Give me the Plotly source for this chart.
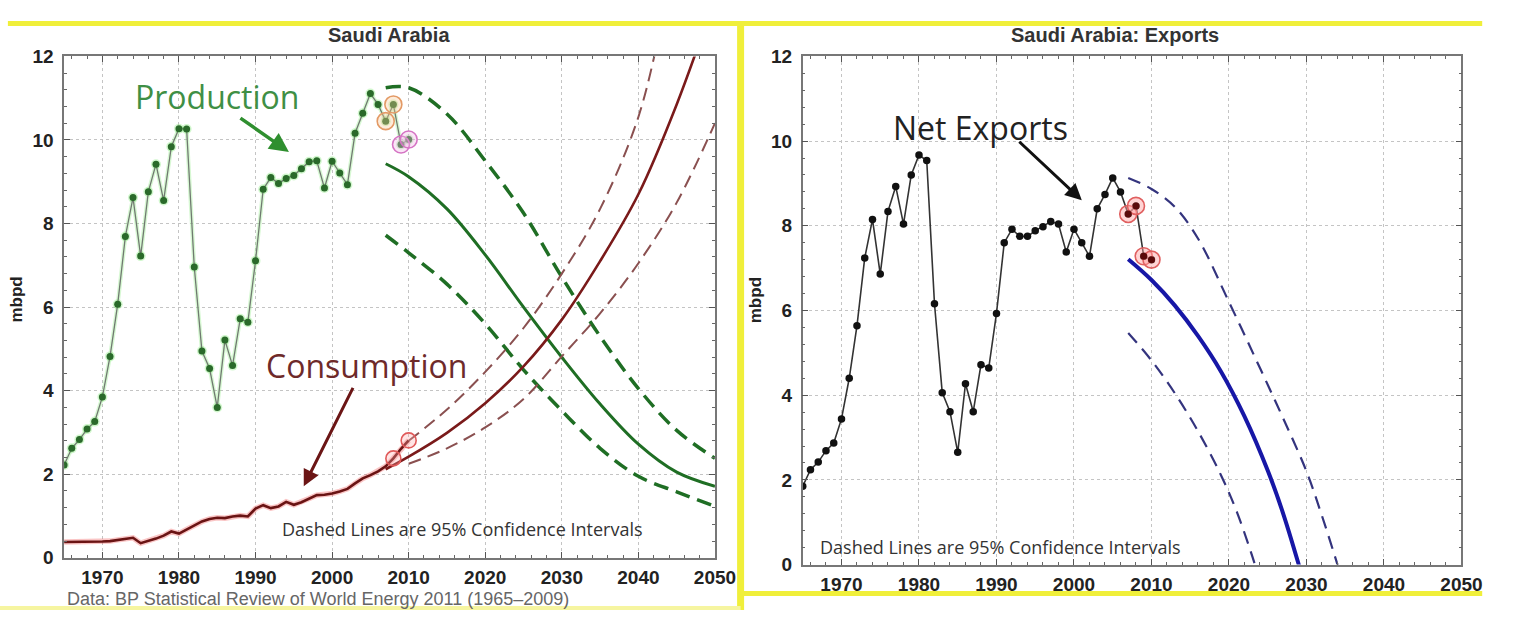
import plotly.graph_objects as go

# ---------------- data ----------------
years = list(range(1965, 2011))

production = [2.22, 2.62, 2.83, 3.08, 3.26, 3.85, 4.82, 6.07, 7.69, 8.62,
              7.22, 8.76, 9.42, 8.55, 9.84, 10.27, 10.26, 6.96, 4.95, 4.53,
              3.60, 5.21, 4.60, 5.72, 5.64, 7.11, 8.82, 9.10, 8.96, 9.08,
              9.15, 9.31, 9.48, 9.50, 8.85, 9.49, 9.21, 8.93, 10.16, 10.64,
              11.11, 10.85, 10.45, 10.85, 9.89, 10.01]

consumption = [0.38, 0.38, 0.38, 0.38, 0.39, 0.39, 0.40, 0.43, 0.46, 0.48,
               0.35, 0.40, 0.46, 0.53, 0.63, 0.58, 0.68, 0.78, 0.87, 0.93,
               0.96, 0.95, 0.99, 1.01, 0.99, 1.18, 1.26, 1.19, 1.23, 1.34,
               1.27, 1.33, 1.42, 1.50, 1.51, 1.54, 1.59, 1.65, 1.78, 1.90,
               1.98, 2.07, 2.19, 2.38, 2.61, 2.81]

net_exports = [1.85, 2.24, 2.42, 2.69, 2.87, 3.44, 4.40, 5.64, 7.24, 8.15,
               6.86, 8.34, 8.93, 8.04, 9.20, 9.67, 9.54, 6.16, 4.06, 3.61,
               2.65, 4.27, 3.61, 4.72, 4.64, 5.93, 7.60, 7.92, 7.75, 7.75,
               7.88, 7.98, 8.10, 8.04, 7.38, 7.92, 7.60, 7.28, 8.40, 8.74,
               9.13, 8.80, 8.28, 8.47, 7.28, 7.20]

# production projection (central + 95% CI)
prod_proj_years = [2007, 2010, 2015, 2020, 2025, 2030, 2035, 2040, 2045, 2050]
prod_proj_mid = [9.43, 9.12, 8.35, 7.25, 6.00, 4.80, 3.68, 2.72, 2.05, 1.71]
prod_proj_hi = [11.25, 11.25, 10.62, 9.50, 8.25, 6.72, 5.30, 4.05, 3.05, 2.38]
prod_proj_lo = [7.72, 7.30, 6.55, 5.60, 4.50, 3.52, 2.62, 1.95, 1.58, 1.23]

# consumption projection (central + 95% CI)
cons_mid_years = [2007, 2010, 2015, 2020, 2025, 2030, 2035, 2040, 2045, 2050]
cons_proj_mid = [2.12, 2.42, 2.99, 3.70, 4.58, 5.70, 7.10, 8.70, 10.85, 13.4]
cons_hi_years = [2010, 2015, 2020, 2025, 2030, 2035, 2040, 2043]
cons_proj_hi = [2.80, 3.55, 4.45, 5.50, 6.80, 8.35, 10.55, 12.8]
cons_lo_years = [2010, 2015, 2020, 2025, 2030, 2035, 2040, 2045, 2050]
cons_proj_lo = [2.25, 2.62, 3.12, 3.80, 4.82, 5.85, 7.05, 8.50, 10.40]

# net exports projection (central + 95% CI)
exp_mid_years = [2007, 2010, 2013, 2016, 2019, 2022, 2025, 2027, 2029, 2030]
exp_proj_mid = [7.21, 6.72, 6.12, 5.40, 4.55, 3.50, 2.22, 1.20, 0.0, -0.65]
exp_hi_years = [2007, 2010, 2013, 2016, 2020, 2024, 2027, 2030, 2032, 2034, 2035]
exp_proj_hi = [9.13, 8.87, 8.45, 7.70, 6.20, 4.64, 3.45, 2.20, 1.15, 0.0, -0.6]
exp_lo_years = [2007, 2010, 2013, 2016, 2019, 2021, 2023, 2024]
exp_proj_lo = [5.47, 4.82, 4.05, 3.15, 2.10, 1.25, 0.20, -0.4]

highlight_a = [2007, 2008]
highlight_b = [2009, 2010]
highlight_cons = [2008, 2010]

x_ticks = [1970, 1980, 1990, 2000, 2010, 2020, 2030, 2040, 2050]
y_ticks = [0, 2, 4, 6, 8, 10, 12]

# ---------------- helpers ----------------
W, H = 1517, 621


def fx(p):
    return p / W


def fy(p):
    return 1 - p / H


def pick(series, yrs):
    return [series[years.index(y)] for y in yrs]


fig = go.Figure()

# ---- left panel: production ----
fig.add_trace(go.Scatter(x=years, y=production, mode="lines+markers",
                         line=dict(color="rgba(140,235,130,0.35)", width=4),
                         marker=dict(size=10, color="rgba(140,235,130,0.40)"),
                         xaxis="x", yaxis="y", hoverinfo="skip"))
fig.add_trace(go.Scatter(x=years, y=production, mode="lines+markers",
                         line=dict(color="#707a70", width=1.3),
                         marker=dict(size=7, color="#2a6a2a"),
                         xaxis="x", yaxis="y"))
# consumption
fig.add_trace(go.Scatter(x=years, y=consumption, mode="lines",
                         line=dict(color="rgba(240,90,90,0.35)", width=5.5),
                         xaxis="x", yaxis="y", hoverinfo="skip"))
fig.add_trace(go.Scatter(x=years, y=consumption, mode="lines",
                         line=dict(color="#6a1414", width=2.6),
                         xaxis="x", yaxis="y"))

# production projections
fig.add_trace(go.Scatter(x=prod_proj_years, y=prod_proj_mid, mode="lines",
                         line=dict(color="#1f6e24", width=3, shape="spline"),
                         xaxis="x", yaxis="y"))
for arr in (prod_proj_hi, prod_proj_lo):
    fig.add_trace(go.Scatter(x=prod_proj_years, y=arr, mode="lines",
                             line=dict(color="#1f6e24", width=3.5, shape="spline",
                                       dash="15px,8px"),
                             xaxis="x", yaxis="y"))
# consumption projections
fig.add_trace(go.Scatter(x=cons_mid_years, y=cons_proj_mid, mode="lines",
                         line=dict(color="#7a1a1a", width=2.6, shape="spline"),
                         xaxis="x", yaxis="y"))
fig.add_trace(go.Scatter(x=cons_hi_years, y=cons_proj_hi, mode="lines",
                         line=dict(color="#8a5050", width=2, shape="spline",
                                   dash="13px,7px"),
                         xaxis="x", yaxis="y"))
fig.add_trace(go.Scatter(x=cons_lo_years, y=cons_proj_lo, mode="lines",
                         line=dict(color="#8a5050", width=2, shape="spline",
                                   dash="13px,7px"),
                         xaxis="x", yaxis="y"))

# highlight circles (left)
fig.add_trace(go.Scatter(x=highlight_a, y=pick(production, highlight_a), mode="markers",
                         marker=dict(size=17, color="rgba(250,200,150,0.35)",
                                     line=dict(color="#e39a66", width=1.6)),
                         xaxis="x", yaxis="y"))
fig.add_trace(go.Scatter(x=highlight_b, y=pick(production, highlight_b), mode="markers",
                         marker=dict(size=17, color="rgba(240,180,230,0.35)",
                                     line=dict(color="#d574c4", width=1.6)),
                         xaxis="x", yaxis="y"))
fig.add_trace(go.Scatter(x=highlight_cons, y=pick(consumption, highlight_cons), mode="markers",
                         marker=dict(size=15, color="rgba(255,170,170,0.3)",
                                     line=dict(color="#e05a5a", width=1.6)),
                         xaxis="x", yaxis="y"))

# ---- right panel: net exports ----
fig.add_trace(go.Scatter(x=years, y=net_exports, mode="lines+markers",
                         line=dict(color="#333333", width=1.6),
                         marker=dict(size=7.5, color="#111111"),
                         xaxis="x2", yaxis="y2"))
fig.add_trace(go.Scatter(x=exp_mid_years, y=exp_proj_mid, mode="lines",
                         line=dict(color="#1717a6", width=4, shape="spline"),
                         xaxis="x2", yaxis="y2"))
fig.add_trace(go.Scatter(x=exp_hi_years, y=exp_proj_hi, mode="lines",
                         line=dict(color="#34347e", width=2.2, shape="spline",
                                   dash="13px,8px"),
                         xaxis="x2", yaxis="y2"))
fig.add_trace(go.Scatter(x=exp_lo_years, y=exp_proj_lo, mode="lines",
                         line=dict(color="#34347e", width=2.2, shape="spline",
                                   dash="13px,8px"),
                         xaxis="x2", yaxis="y2"))
for grp in (highlight_a, highlight_b):
    fig.add_trace(go.Scatter(x=grp, y=pick(net_exports, grp), mode="markers",
                             marker=dict(size=17, color="rgba(255,160,160,0.45)",
                                         line=dict(color="#e06060", width=1.6)),
                             xaxis="x2", yaxis="y2"))
    fig.add_trace(go.Scatter(x=grp, y=pick(net_exports, grp), mode="markers",
                             marker=dict(size=7, color="#5a0a0a"),
                             xaxis="x2", yaxis="y2"))

# ---------------- axes ----------------
tickfont = dict(family="Liberation Sans", size=19, color="#222", weight="bold")


def xaxis(domain, anchor):
    return dict(domain=domain, anchor=anchor, range=[1965, 2050], tickvals=x_ticks,
                ticks="inside", ticklen=6, tickcolor="#555", tickwidth=1.2,
                showline=True, linecolor="#777", linewidth=1.5, mirror="allticks",
                showgrid=True, gridcolor="#c4c4c4", griddash="dot", gridwidth=1,
                zeroline=False, tickfont=tickfont, ticklabelstandoff=2,
                minor=dict(dtick=2, ticks="inside", ticklen=3, tickcolor="#666",
                           showgrid=False))


def yaxis(domain, anchor):
    return dict(domain=domain, anchor=anchor, range=[0, 12], tickvals=y_ticks,
                ticks="inside", ticklen=6, tickcolor="#555", tickwidth=1.2,
                showline=True, linecolor="#777", linewidth=1.5, mirror="allticks",
                showgrid=True, gridcolor="#c4c4c4", griddash="dot", gridwidth=1,
                zeroline=False, tickfont=tickfont, ticklabelstandoff=5,
                minor=dict(dtick=0.4, ticks="inside", ticklen=3, tickcolor="#666",
                           showgrid=False))


fig.update_layout(
    width=W, height=H, margin=dict(l=0, r=0, t=0, b=0),
    paper_bgcolor="white", plot_bgcolor="white", showlegend=False,
    xaxis=xaxis([fx(65), fx(725)], "y"),
    yaxis=yaxis([fy(567), fy(48)], "x"),
    xaxis2=xaxis([fx(814), fx(1482)], "y2"),
    yaxis2=yaxis([fy(574), fy(48)], "x2"),
)

# ---------------- frame (yellow) ----------------
yellow = "#f0ef3a"
shapes = [
    dict(type="line", xref="paper", yref="paper", x0=fx(8), x1=fx(1503), y0=fy(14), y1=fy(14),
         line=dict(color=yellow, width=5), layer="below"),
    dict(type="line", xref="paper", yref="paper", x0=fx(751), x1=fx(751), y0=fy(12), y1=0,
         line=dict(color=yellow, width=7), layer="below"),
    dict(type="line", xref="paper", yref="paper", x0=fx(751), x1=fx(1503), y0=fy(604), y1=fy(604),
         line=dict(color=yellow, width=5), layer="below"),
    dict(type="line", xref="paper", yref="paper", x0=0, x1=fx(751), y0=fy(619), y1=fy(619),
         line=dict(color="#f6f5a0", width=4), layer="below"),
]
fig.update_layout(shapes=shapes)

# ---------------- text ----------------
ann = []


def text(x, y, s, size, color, family="Open Sans", weight="normal", xanchor="center",
         angle=0):
    ann.append(dict(x=fx(x), y=fy(y), xref="paper", yref="paper", text=s, showarrow=False,
                    xanchor=xanchor, yanchor="middle", textangle=angle,
                    font=dict(family=family, size=size, color=color, weight=weight)))


def arrow(tail, tip, color, width):
    ann.append(dict(x=fx(tip[0]), y=fy(tip[1]), xref="paper", yref="paper", text="",
                    showarrow=True, ax=tail[0] - tip[0], ay=tail[1] - tip[1],
                    arrowhead=2, arrowsize=1.1, arrowwidth=width, arrowcolor=color))


text(394, 26, "Saudi Arabia", 20, "#333", family="Liberation Sans", weight="bold")
text(1131, 26, "Saudi Arabia: Exports", 20, "#333", family="Liberation Sans", weight="bold")
text(17, 300, "mbpd", 17, "#222", family="Liberation Sans", weight="bold", angle=-90)
text(766, 300, "mbpd", 17, "#222", family="Liberation Sans", weight="bold", angle=-90)
text(220, 90, "Production", 32, "#3f8f45")
text(372, 368, "Consumption", 32, "#6e2a2a")
text(994, 122, "Net Exports", 32, "#222")
text(284, 537, "Dashed Lines are 95% Confidence Intervals", 18, "#333", xanchor="left")
text(829, 556, "Dashed Lines are 95% Confidence Intervals", 18, "#333", xanchor="left")
text(66, 610, "Data: BP Statistical Review of World Energy 2011 (1965\u20132009)", 18, "#666",
     family="Liberation Sans", xanchor="left")

arrow((243, 112), (293, 147), "#2f8f2f", 3.5)
arrow((358, 393), (308, 493), "#6b1515", 3)
arrow((1033, 137), (1097, 197), "#111111", 3)

fig.update_layout(annotations=ann)

fig.write_html("out.html",
               post_script="document.body.style.margin='0';"
                           "document.documentElement.style.overflow='hidden';")
